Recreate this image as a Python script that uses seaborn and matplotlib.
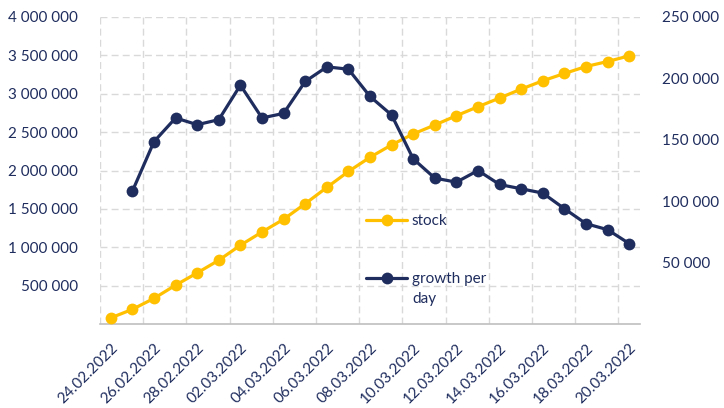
import matplotlib
matplotlib.use("Agg")
import matplotlib.pyplot as plt
import seaborn as sns
import numpy as np
import pandas as pd
from matplotlib.ticker import FuncFormatter, FixedLocator

dates = ["24.02.2022", "25.02.2022", "26.02.2022", "27.02.2022", "28.02.2022",
         "01.03.2022", "02.03.2022", "03.03.2022", "04.03.2022", "05.03.2022",
         "06.03.2022", "07.03.2022", "08.03.2022", "09.03.2022", "10.03.2022",
         "11.03.2022", "12.03.2022", "13.03.2022", "14.03.2022", "15.03.2022",
         "16.03.2022", "17.03.2022", "18.03.2022", "19.03.2022", "20.03.2022"]

stock = [80000, 191000, 334000, 506000, 666000, 831000, 1026000, 1199000,
         1364000, 1567000, 1779000, 1987000, 2172000, 2334000, 2476000,
         2593000, 2714000, 2831000, 2944000, 3061000, 3169000, 3264000,
         3355000, 3420000, 3494000]

growth = [np.nan, 108200, 148500, 167800, 162300, 166400, 194500, 167800,
          171500, 197500, 209400, 207500, 185300, 170200, 134500, 118800,
          115500, 125000, 113600, 110100, 106600, 93900, 81700, 76800, 65500]

YELLOW = "#FFC000"
NAVY = "#1F2D5E"
GRID = "#D9D9D9"

sns.set_theme(style="white")
plt.rcParams["font.family"] = ["Lato", "DejaVu Sans"]

df = pd.DataFrame({"i": np.arange(len(dates)), "stock": stock, "growth": growth})

fig = plt.figure(figsize=(7.24, 4.08), dpi=100)
ax = fig.add_axes([100 / 724, 1 - 324 / 408, 540 / 724, 307 / 408])
ax2 = ax.twinx()

sns.lineplot(data=df, x="i", y="stock", ax=ax, color=YELLOW, marker="o",
             markersize=8.5, linewidth=2.3, markeredgewidth=0, label="stock",
             legend=False, zorder=3)
sns.lineplot(data=df.dropna(), x="i", y="growth", ax=ax2, color=NAVY, marker="o",
             markersize=8.5, linewidth=2.3, markeredgewidth=0,
             label="growth per", legend=False, zorder=3)

ax.set_xlim(-0.5, len(dates) - 0.5)
ax.set_ylim(0, 4000000)
ax2.set_ylim(0, 250000)

fmt = FuncFormatter(lambda v, p: f"{int(v):,}".replace(",", " "))
ax.yaxis.set_major_locator(FixedLocator(np.arange(500000, 4000001, 500000)))
ax.yaxis.set_major_formatter(fmt)
ax2.yaxis.set_major_locator(FixedLocator(np.arange(50000, 250001, 50000)))
ax2.yaxis.set_major_formatter(fmt)

ax.set_xticks(np.arange(0, len(dates), 2))
ax.set_xticklabels(dates[::2], rotation=45, ha="right", rotation_mode="anchor")
ax.set_xticks(np.arange(-0.5, len(dates) - 0.5, 2), minor=True)

ax.grid(False)
ax2.grid(False)
ax.yaxis.grid(True, color=GRID, linestyle=(0, (5, 3)), linewidth=1)
ax.xaxis.grid(True, which="minor", color=GRID, linestyle=(0, (5, 3)), linewidth=1)
ax.set_axisbelow(True)

for a in (ax, ax2):
    for s in a.spines.values():
        s.set_visible(False)
    a.set_xlabel("")
    a.set_ylabel("")
ax.spines["bottom"].set_visible(True)
ax.spines["bottom"].set_color("#BFBFBF")
ax.spines["bottom"].set_linewidth(1.2)

ax.tick_params(axis="x", which="major", length=0, pad=12, labelsize=11, labelcolor=NAVY)
ax.tick_params(axis="x", which="minor", length=6, direction="inout", color="#BFBFBF", width=1)
ax.tick_params(axis="y", length=0, pad=16, labelsize=11, labelcolor=NAVY)
ax2.tick_params(axis="y", length=0, pad=16, labelsize=11, labelcolor=NAVY)

h1, l1 = ax.get_legend_handles_labels()
h2, l2 = ax2.get_legend_handles_labels()
leg = ax2.legend(h1 + h2, l1 + l2, loc="upper left",
                 bbox_to_anchor=(260 / 540, 1 - (208 - 17) / 307),
                 frameon=False, fontsize=11, labelspacing=2.9, handlelength=2.7,
                 handletextpad=0.3, borderaxespad=0)
for t in leg.get_texts():
    t.set_color(NAVY)

fig.canvas.draw()
bb = leg.get_texts()[1].get_window_extent()
x0, y0 = fig.transFigure.inverted().transform((bb.x0, bb.y0))
fig.text(x0, y0 - 6 / 408, "day", color=NAVY, fontsize=11, ha="left", va="top")

fig.savefig("out.png", dpi=100)
